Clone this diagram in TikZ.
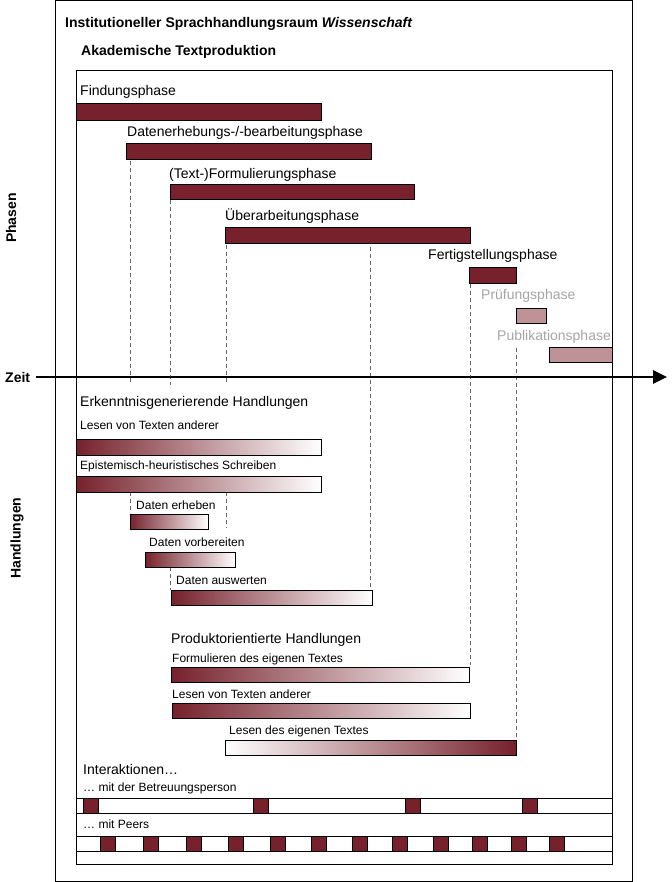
\documentclass[tikz,border=0pt]{standalone}
\usepackage{fontspec}
\setmainfont{Liberation Sans}
\usetikzlibrary{arrows.meta}
\definecolor{wine}{RGB}{118,33,44}
\definecolor{rose}{RGB}{190,146,150}
\definecolor{greytxt}{RGB}{165,165,165}
\tikzset{
  bar/.style={draw=black, line width=1pt, fill=wine},
  lightbar/.style={draw=black, line width=1pt, fill=rose},
  gradbar/.style={draw=black, line width=1pt, left color=wine, right color=white},
  revbar/.style={draw=black, line width=1pt, left color=white, right color=wine},
  slot/.style={draw=black, line width=1pt, fill=white},
  chip/.style={draw=black, line width=0.5pt, fill=wine},
  frame/.style={draw=black, line width=1pt, fill=none},
  big/.style={anchor=west, inner sep=0pt, font=\fontsize{14}{16}\selectfont},
  small/.style={anchor=west, inner sep=0pt, font=\fontsize{12}{14}\selectfont},
  head/.style={anchor=west, inner sep=0pt, font=\bfseries\fontsize{14}{16}\selectfont},
  side/.style={inner sep=0pt, font=\bfseries\fontsize{14}{16}\selectfont},
  guide/.style={draw=black!60, line width=0.6pt, dash pattern=on 4pt off 3pt},
}
\newcommand\barbox[6]{\node[#1, anchor=north west, inner sep=0pt, outer sep=0pt,
  minimum width={#4pt-#3pt}, minimum height={#6pt-#5pt}] (#2) at (#3,#5) {};}
\begin{document}
\begin{tikzpicture}[x=1pt,y=-1pt]
\useasboundingbox (0,0) rectangle (671,882);
% frames
\barbox{frame}{outer}{55}{632}{1}{881}
\barbox{frame}{inner}{76}{612}{71}{864}
\node[head] (title) at (65,24) {Institutioneller Sprachhandlungsraum \textit{Wissenschaft}};
\node[head] (akad) at (81,52) {Akademische Textproduktion};
% side labels
\node[side, rotate=90] (phasen) at (11,218) {Phasen};
\node[side, rotate=90] (handl) at (17,538) {Handlungen};
\node[side, anchor=west] (zeit) at (5,377) {Zeit};
% guide lines
\draw[guide] (130,161) -- (130,385);
\draw[guide] (130,492) -- (130,513);
\draw[guide] (170,200) -- (170,385);
\draw[guide] (170,567) -- (170,590);
\draw[guide] (226,245) -- (226,385);
\draw[guide] (226,492) -- (226,528);
\draw[guide] (370,247) -- (370,590);
\draw[guide] (470,284) -- (470,665);
\draw[guide] (516,348) -- (516,740);
% time arrow
\coordinate (zs) at (36,377);
\coordinate (ze) at (667,377);
\draw[line width=2.6pt, -{Triangle[length=14pt,width=13pt]}] (zs) -- (ze);
% phases
\node[big] (l1) at (80,92) {Findungsphase};
\barbox{bar}{p1}{76}{321}{104}{121}
\node[big] (l2) at (127,133) {Datenerhebungs-/-bearbeitungsphase};
\barbox{bar}{p2}{126}{371}{144}{160}
\node[big] (l3) at (169,175) {(Text-)Formulierungsphase};
\barbox{bar}{p3}{170}{414}{185}{200}
\node[big] (l4) at (225,216) {Überarbeitungsphase};
\barbox{bar}{p4}{225}{470}{228}{244}
\node[big] (l5) at (428,256) {Fertigstellungsphase};
\barbox{bar}{p5}{469}{516}{268}{283}
\node[big, text=greytxt] (l6) at (481,296) {Prüfungsphase};
\barbox{lightbar}{p6}{516}{546}{308}{323}
\node[big, text=greytxt] (l7) at (497,337) {Publikationsphase};
\barbox{lightbar}{p7}{549}{612}{347}{362}
% Erkenntnisgenerierende Handlungen
\node[big] (e0) at (80,403) {Erkenntnisgenerierende Handlungen};
\node[small] (e1) at (80,425) {Lesen von Texten anderer};
\barbox{gradbar}{h1}{76}{321}{439}{455}
\node[small] (e2) at (80,466) {Epistemisch-heuristisches Schreiben};
\barbox{gradbar}{h2}{76}{321}{476}{492}
\node[small] (e3) at (136,505) {Daten erheben};
\barbox{gradbar}{h3}{130}{208}{514}{529}
\node[small] (e4) at (149,542) {Daten vorbereiten};
\barbox{gradbar}{h4}{145}{235}{552}{567}
\node[small] (e5) at (176,580) {Daten auswerten};
\barbox{gradbar}{h5}{171}{372}{590}{605}
% Produktorientierte Handlungen
\node[big] (q0) at (171,640) {Produktorientierte Handlungen};
\node[small] (q1) at (172,659) {Formulieren des eigenen Textes};
\barbox{gradbar}{k1}{171}{469}{667}{682}
\node[small] (q2) at (172,694) {Lesen von Texten anderer};
\barbox{gradbar}{k2}{172}{470}{703}{718}
\node[small] (q3) at (229,731) {Lesen des eigenen Textes};
\barbox{revbar}{k3}{225}{516}{740}{755}
% Interaktionen
\node[big] (i0) at (83,769) {Interaktionen…};
\node[small] (i1) at (83,788) {… mit der Betreuungsperson};
\barbox{slot}{r1}{76}{612}{798}{813}
\foreach \x [count=\n] in {83,253,405,522}
  {\barbox{chip}{b\n}{\x}{\x+15}{798}{813}}
\node[small] (i2) at (83,824) {… mit Peers};
\barbox{slot}{r2}{76}{612}{836}{851}
\foreach \x [count=\n] in {100,143,186,228,270,311,352,392,433,472,511,549}
  {\barbox{chip}{c\n}{\x}{\x+15}{836}{851}}
\end{tikzpicture}
\end{document}
